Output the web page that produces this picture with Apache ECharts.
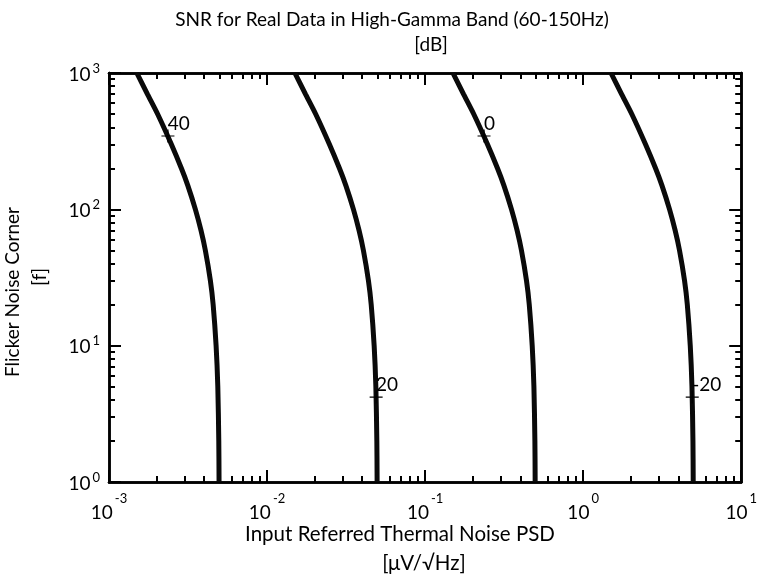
<!DOCTYPE html>
<html><head><meta charset="utf-8">
<script src="https://cdn.jsdelivr.net/npm/echarts@6/dist/echarts.min.js"></script>
<style>html,body{margin:0;padding:0;background:#fff}#c{width:760px;height:580px}</style>
</head><body><div id="c"></div>
<script>
// Flicker noise corner values (y) shared by all contours
const fc = [1, 2, 5, 10, 20, 30, 50, 70, 100, 150, 200, 300, 500, 700, 1000];
// Thermal noise PSD (x) along each SNR contour
const snr40  = [0.00497, 0.00495, 0.00488, 0.00476, 0.00456, 0.00438, 0.00407, 0.00382, 0.00352, 0.00315, 0.00287, 0.00248, 0.00203, 0.00175, 0.00150];
const snr20  = [0.0497, 0.0495, 0.0488, 0.0476, 0.0456, 0.0438, 0.0407, 0.0382, 0.0352, 0.0315, 0.0287, 0.0248, 0.0203, 0.0175, 0.0150];
const snr0   = [0.497, 0.495, 0.488, 0.476, 0.456, 0.438, 0.407, 0.382, 0.352, 0.315, 0.287, 0.248, 0.203, 0.175, 0.150];
const snrM20 = [4.97, 4.95, 4.88, 4.76, 4.56, 4.38, 4.07, 3.82, 3.52, 3.15, 2.87, 2.48, 2.03, 1.75, 1.50];
// Contour labels
const contourLabels = ['40', '20', '0', '-20'];
const labelX = [0.00236, 0.0490, 0.236, 4.90];
const labelF = [345, 4.2, 345, 4.2];
// Ticks
const xMajor = [0.001, 0.01, 0.1, 1, 10];
const xTickExps = ['-3', '-2', '-1', '0', '1'];
const yMajor = [1, 10, 100, 1000];
const yTickExps = ['0', '1', '2', '3'];
const xMinor = [0.002,0.003,0.004,0.005,0.006,0.007,0.008,0.009,
                0.02,0.03,0.04,0.05,0.06,0.07,0.08,0.09,
                0.2,0.3,0.4,0.5,0.6,0.7,0.8,0.9,
                2,3,4,5,6,7,8,9];
const yMinor = [2,3,4,5,6,7,8,9, 20,30,40,50,60,70,80,90, 200,300,400,500,600,700,800,900];

const FONT = 'Lato';
function nearestIdx(arr, v) {
  let best = 0, bd = Infinity;
  arr.forEach((a, i) => { const d = Math.abs(Math.log10(a) - Math.log10(v)); if (d < bd) { bd = d; best = i; } });
  return best;
}
const black = '#000';
function baseX(pos, major, showLabel) {
  return {
    type: 'log', logBase: 10, min: 0.001, max: 10, position: pos, gridIndex: 0,
    axisLine: { show: true, onZero: false, lineStyle: { color: black, width: 2.5 } },
    axisTick: { show: true, inside: true, length: major ? 12 : 6, lineStyle: { color: black, width: 2 }, customValues: major ? xMajor : xMinor },
    minorTick: { show: false },
    splitLine: { show: false },
    axisLabel: showLabel ? {
      show: true, customValues: xMajor, margin: 10, hideOverlap: false,
      formatter: v => '{b|10}{s|' + xTickExps[nearestIdx(xMajor, v)] + '}',
      rich: {
        b: { fontFamily: FONT, fontSize: 19, color: black, lineHeight: 30, verticalAlign: 'bottom' },
        s: { fontFamily: FONT, fontSize: 13, color: black, verticalAlign: 'top', padding: [0, 0, 0, 2] }
      }
    } : { show: false }
  };
}
function baseY(pos, major, showLabel) {
  return {
    type: 'log', logBase: 10, min: 1, max: 1000, position: pos, gridIndex: 0,
    axisLine: { show: true, onZero: false, lineStyle: { color: black, width: 2.5 } },
    axisTick: { show: true, inside: true, length: major ? 12 : 6, lineStyle: { color: black, width: 2 }, customValues: major ? yMajor : yMinor },
    minorTick: { show: false },
    splitLine: { show: false },
    axisLabel: showLabel ? {
      show: true, customValues: yMajor, margin: 9, hideOverlap: false,
      formatter: v => '{b|10}{s|' + yTickExps[nearestIdx(yMajor, v)] + '}',
      rich: {
        b: { fontFamily: FONT, fontSize: 19, color: black, lineHeight: 22, verticalAlign: 'bottom' },
        s: { fontFamily: FONT, fontSize: 13, color: black, verticalAlign: 'top', padding: [0, 0, 0, 2] }
      }
    } : { show: false }
  };
}

const curves = [snr40, snr20, snr0, snrM20];
const series = curves.map(c => ({
  type: 'line', xAxisIndex: 0, yAxisIndex: 0,
  data: fc.map((f, i) => [c[i], f]),
  showSymbol: false, symbol: 'none', smooth: 0.25,
  lineStyle: { color: '#0a0a0a', width: 5 },
  emphasis: { disabled: true }, z: 2
}));
series.push({
  type: 'scatter', xAxisIndex: 0, yAxisIndex: 0, z: 5,
  symbol: 'path://M0 6.5H13M6.5 0V13', symbolSize: 13,
  itemStyle: { color: 'transparent', borderColor: black, borderWidth: 1.2, opacity: 1 },
  data: labelX.map((x, i) => ({ value: [x, labelF[i]], label: { formatter: contourLabels[i] } })),
  label: { show: true, position: [7, -5], align: 'left', verticalAlign: 'middle', fontFamily: FONT, fontSize: 19, color: '#000', opacity: 1 },
  emphasis: { disabled: true }
});

function txt(text, x, y, size, rot) {
  return { type: 'text', x: x, y: y, rotation: rot || 0, z: 10,
    style: { text: text, fontFamily: FONT, fontSize: size, fill: '#000', align: 'center', verticalAlign: 'middle', textAlign: 'center', textVerticalAlign: 'middle' } };
}

const chart = echarts.init(document.getElementById('c'), null, { renderer: 'canvas' });
chart.setOption({
  animation: false,
  backgroundColor: '#fff',
  grid: { left: 109, right: 15, top: 73, bottom: 98, containLabel: false },
  xAxis: [baseX('bottom', true, true), baseX('top', true, false), baseX('bottom', false, false), baseX('top', false, false)],
  yAxis: [baseY('left', true, true), baseY('right', true, false), baseY('left', false, false), baseY('right', false, false)],
  graphic: [
    txt('SNR for Real Data in High-Gamma Band (60-150Hz)', 392, 20, 19),
    txt('[dB]', 431, 45, 19),
    txt('Input Referred Thermal Noise PSD', 400, 534, 20.5),
    txt('[μV/√Hz]', 424, 563, 20.5),
    txt('Flicker Noise Corner', 13, 292, 19, Math.PI / 2),
    txt('[f]', 40, 277, 19, Math.PI / 2)
  ],
  series: series
});
</script></body></html>
